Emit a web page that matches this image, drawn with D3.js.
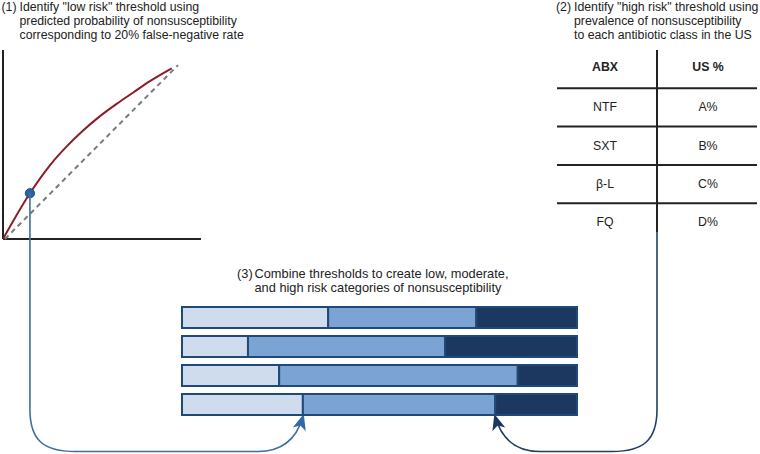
<!DOCTYPE html>
<html>
<head>
<meta charset="utf-8">
<script src="https://cdn.jsdelivr.net/npm/d3@7"></script>
<style>
  body { margin: 0; background: #fff; }
  svg { display: block; font-family: "Liberation Sans", Arial, sans-serif; }
</style>
</head>
<body>
<svg id="chart"></svg>
<script>
// panel (1): ROC-like curve, values in 0..1 units
const curveX = [0.0, 0.136, 0.237, 0.322, 0.406, 0.49, 0.574, 0.658, 0.742, 0.852];
const curveY = [0.0, 0.242, 0.39, 0.49, 0.575, 0.65, 0.715, 0.775, 0.835, 0.903];
const refLine = [[0.01, 0.0], [0.884, 0.92]];
const lowRiskPoint = [0.136, 0.242];

// panel (2): table
const tableHead = ["ABX", "US %"];
const abxClasses = ["NTF", "SXT", "β-L", "FQ"];
const usPrevalence = ["A%", "B%", "C%", "D%"];

// panel (3): risk categories, cut points in % of bar
const barRows = ["r1", "r2", "r3", "r4"];
const lowCut = [37, 16.7, 24.6, 30.6];
const highCut = [74.5, 66.6, 85, 79.3];

const titles1 = ["Identify \"low risk\" threshold using",
  "predicted probability of nonsusceptibility",
  "corresponding to 20% false-negative rate"];
const titles2 = ["Identify \"high risk\" threshold using",
  "prevalence of nonsusceptibility",
  "to each antibiotic class in the US"];
const titles3 = ["Combine thresholds to create low, moderate,",
  "and high risk categories of nonsusceptibility"];

const width = 760, height = 454;
const svg = d3.select("#chart").attr("width", width).attr("height", height);

const textColor = "#222";
const lowColor = "#cfdcee", midColor = "#7ba4d4", highColor = "#1c3861";
const barStroke = "#1f4a78";

// arrow markers
const defs = svg.append("defs");
function marker(id, color) {
  defs.append("marker")
      .attr("id", id)
      .attr("viewBox", "0 0 10 10")
      .attr("refX", 8).attr("refY", 5)
      .attr("markerWidth", 16).attr("markerHeight", 16)
      .attr("markerUnits", "userSpaceOnUse")
      .attr("orient", "auto")
    .append("path")
      .attr("d", "M0,0.8 L10,5 L0,9.2 L2.5,5 Z")
      .attr("fill", color);
}
marker("arrowBlue", "#2f6aad");
marker("arrowNavy", "#1c3861");

// titles
function title(num, lines, xNum, xText, y0, size) {
  const g = svg.append("g").attr("fill", textColor).style("font-size", size + "px");
  g.append("text").attr("x", xNum).attr("y", y0).text(num);
  g.selectAll(".ln").data(lines).join("text")
      .attr("x", xText)
      .attr("y", (d, i) => y0 + i * 14.2)
      .text(d => d);
}
title("(1)", titles1, 1.5, 19.5, 11, 12.3);
title("(2)", titles2, 556, 574, 11, 12.3);
title("(3)", titles3, 237, 254.5, 278, 12.8);

// ---- panel 1 ----
const x1 = d3.scaleLinear().domain([0, 1]).range([3, 201]);
const y1 = d3.scaleLinear().domain([0, 1]).range([239, 50]);

const p1 = svg.append("g");

const dotX = x1(lowRiskPoint[0]), dotY = y1(lowRiskPoint[1]);

// bar scales (needed by connector)
const xb = d3.scaleLinear().domain([0, 100]).range([182, 577]);
const yb = d3.scaleBand().domain(barRows).range([307, 415]).paddingInner(0.276);
const lastRow = barRows[barRows.length - 1];
const barBottom = yb(lastRow) + yb.bandwidth();

// left connector: from the low-risk point down and round to bar 4 low cut
const bottomY = 451.5;
const leftTipX = xb(lowCut[3]), tipY = barBottom + 2;
const leftPath = d3.path();
leftPath.moveTo(dotX, dotY);
leftPath.lineTo(dotX, bottomY - 42);
leftPath.bezierCurveTo(dotX, bottomY - 10, dotX + 15, bottomY, dotX + 45, bottomY);
leftPath.lineTo(leftTipX - 45, bottomY);
leftPath.bezierCurveTo(leftTipX - 20, bottomY, leftTipX - 6, bottomY - 14, leftTipX, tipY);
svg.append("path")
    .attr("d", leftPath.toString())
    .attr("fill", "none")
    .attr("stroke", "#3f6f9d")
    .attr("stroke-width", 1.6)
    .attr("marker-end", "url(#arrowBlue)");

// axes
p1.append("line")
    .attr("x1", x1(0)).attr("x2", x1(0)).attr("y1", y1(1)).attr("y2", y1(0))
    .attr("stroke", "#222").attr("stroke-width", 2);
p1.append("line")
    .attr("x1", x1(0)).attr("x2", x1(1)).attr("y1", y1(0)).attr("y2", y1(0))
    .attr("stroke", "#222").attr("stroke-width", 2);

// reference diagonal
p1.append("path")
    .attr("d", d3.line().x(d => x1(d[0])).y(d => y1(d[1]))(refLine))
    .attr("fill", "none")
    .attr("stroke", "#7a7a7a")
    .attr("stroke-width", 2)
    .attr("stroke-dasharray", "5,4");

// curve
const curveData = curveX.map((v, i) => [v, curveY[i]]);
p1.append("path")
    .attr("d", d3.line().x(d => x1(d[0])).y(d => y1(d[1])).curve(d3.curveMonotoneX)(curveData))
    .attr("fill", "none")
    .attr("stroke", "#8a1c2c")
    .attr("stroke-width", 2);

p1.append("circle")
    .attr("cx", dotX).attr("cy", dotY).attr("r", 4.6)
    .attr("fill", "#2a64a4")
    .attr("stroke", "#1d4a7c").attr("stroke-width", 1);

// ---- panel 2: table ----
const tableX = d3.scaleBand().domain([0, 1]).range([557, 757]);
const rowsAll = [tableHead].concat(abxClasses.map((d, i) => [d, usPrevalence[i]]));
const tableY = d3.scaleBand().domain(d3.range(rowsAll.length)).range([50, 241.5]);
const divX = tableX(1);

// right connector: from below the table down and round to bar 4 high cut
const rightTipX = xb(highCut[3]);
const rightPath = d3.path();
rightPath.moveTo(divX, 231);
rightPath.lineTo(divX, bottomY - 42);
rightPath.bezierCurveTo(divX, bottomY - 10, divX - 15, bottomY, divX - 45, bottomY);
rightPath.lineTo(rightTipX + 45, bottomY);
rightPath.bezierCurveTo(rightTipX + 20, bottomY, rightTipX + 6, bottomY - 14, rightTipX, tipY);
svg.append("path")
    .attr("d", rightPath.toString())
    .attr("fill", "none")
    .attr("stroke", "#233f63")
    .attr("stroke-width", 1.6)
    .attr("marker-end", "url(#arrowNavy)");

const tbl = svg.append("g");
tbl.append("line")
    .attr("x1", divX).attr("x2", divX)
    .attr("y1", 50).attr("y2", 232)
    .attr("stroke", "#222").attr("stroke-width", 2);
tbl.selectAll(".hline").data(d3.range(1, rowsAll.length)).join("line")
    .attr("x1", 557).attr("x2", 757)
    .attr("y1", d => tableY(d)).attr("y2", d => tableY(d))
    .attr("stroke", "#222").attr("stroke-width", 2);

rowsAll.forEach((row, r) => {
  tbl.selectAll(".c" + r).data(row).join("text")
      .attr("x", (d, c) => tableX(c) + tableX.bandwidth() / 2 + (c === 0 ? -2 : 1))
      .attr("y", tableY(r) + tableY.bandwidth() / 2 + (r === 0 ? -2 : 0))
      .attr("text-anchor", "middle")
      .attr("dominant-baseline", "central")
      .attr("fill", textColor)
      .style("font-size", "12.3px")
      .style("font-weight", r === 0 ? "bold" : "normal")
      .text(d => d);
});

// ---- panel 3: bars ----
const segs = [];
barRows.forEach((r, i) => {
  segs.push({row: r, x0: 0, x1: lowCut[i], color: lowColor});
  segs.push({row: r, x0: lowCut[i], x1: highCut[i], color: midColor});
  segs.push({row: r, x0: highCut[i], x1: 100, color: highColor});
});

svg.append("g").selectAll("rect").data(segs).join("rect")
    .attr("x", d => xb(d.x0))
    .attr("y", d => yb(d.row))
    .attr("width", d => xb(d.x1) - xb(d.x0))
    .attr("height", yb.bandwidth())
    .attr("fill", d => d.color)
    .attr("stroke", barStroke)
    .attr("stroke-width", 2);
</script>
</body>
</html>
